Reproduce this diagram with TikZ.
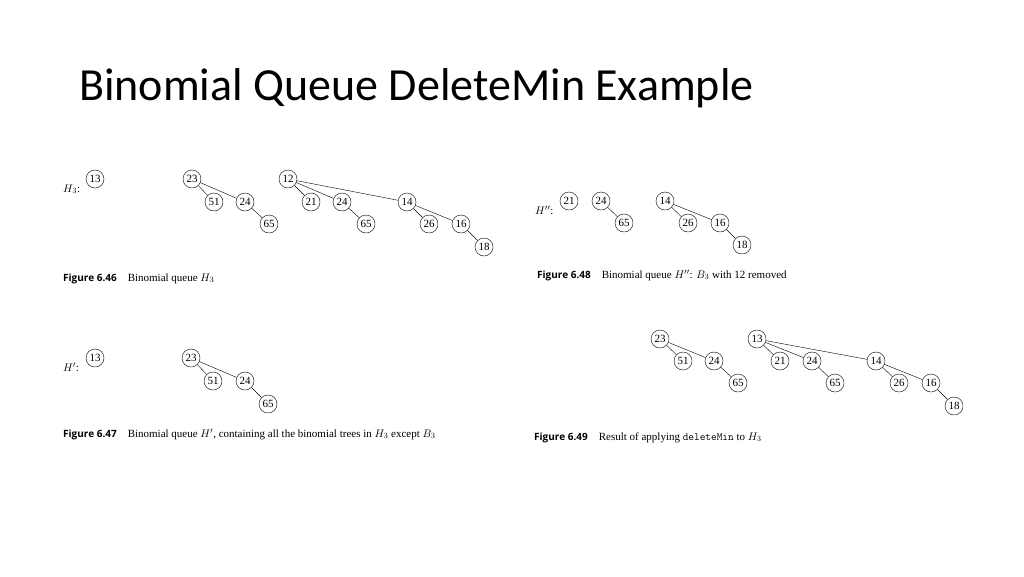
\documentclass[tikz,border=0pt]{standalone}
\usepackage{fontspec}
\setmainfont{Liberation Serif}
\newfontfamily\titlefont{Carlito}
\newfontfamily\capfont{Open Sans}
\begin{document}
\begin{tikzpicture}[x=1pt,y=-1pt,
  key/.style={draw,circle,minimum size=18pt,inner sep=0pt,font=\fontsize{11}{11}\selectfont},
  lbl/.style={anchor=base west,inner sep=0pt,font=\fontsize{11}{11}\selectfont},
  figcap/.style={anchor=base west,inner sep=0pt,font=\fontsize{11}{11}\selectfont}]
\useasboundingbox (0,0) rectangle (1024,576);
% title
\node[anchor=base west,inner sep=0pt,font=\titlefont\fontsize{46}{46}\selectfont] (title) at (79,100) {Binomial Queue DeleteMin Example};

% Figure 6.46
\node[lbl] (lh3) at (63,192) {$H_3$:};
\node[key] (a13) at (95,179) {13};
\node[key] (a23) at (192,179) {23};
\node[key] (a51) at (214,202) {51};
\node[key] (a24) at (245,202) {24};
\node[key] (a65) at (269,224) {65};
\node[key] (a12) at (288,179) {12};
\node[key] (a21) at (311,202) {21};
\node[key] (a24b) at (342,202) {24};
\node[key] (a65b) at (366,224) {65};
\node[key] (a14) at (407,202) {14};
\node[key] (a26) at (429,224) {26};
\node[key] (a16) at (461,224) {16};
\node[key] (a18) at (484,247) {18};
\foreach \u/\v in {a23/a51,a23/a24,a24/a65,a12/a21,a12/a24b,a12/a14,a24b/a65b,a14/a26,a14/a16,a16/a18}
  \draw (\u) -- (\v);
\node[figcap] (c46) at (63,281) {{\capfont\bfseries\fontsize{10}{10}\selectfont Figure 6.46}\quad Binomial queue $H_3$};

% Figure 6.48
\node[lbl] (lh2) at (535,214) {$H''$:};
\node[key] (b21) at (569,201) {21};
\node[key] (b24) at (601,201) {24};
\node[key] (b65) at (624,223) {65};
\node[key] (b14) at (665,201) {14};
\node[key] (b26) at (688,223) {26};
\node[key] (b16) at (720,223) {16};
\node[key] (b18) at (742,245) {18};
\foreach \u/\v in {b24/b65,b14/b26,b14/b16,b16/b18}
  \draw (\u) -- (\v);
\node[figcap] (c48) at (537,278) {{\capfont\bfseries\fontsize{10}{10}\selectfont Figure 6.48}\quad Binomial queue $H''$: $B_3$ with 12 removed};

% Figure 6.47
\node[lbl] (lh1) at (63,371) {$H'$:};
\node[key] (c13) at (95,358) {13};
\node[key] (c23) at (191,358) {23};
\node[key] (c51) at (213,381) {51};
\node[key] (c24) at (245,381) {24};
\node[key] (c65) at (268,404) {65};
\foreach \u/\v in {c23/c51,c23/c24,c24/c65}
  \draw (\u) -- (\v);
\node[figcap] (c47) at (63,437) {{\capfont\bfseries\fontsize{10}{10}\selectfont Figure 6.47}\quad Binomial queue $H'$, containing all the binomial trees in $H_3$ except $B_3$};

% Figure 6.49
\node[key] (d23) at (660,339) {23};
\node[key] (d51) at (683,361) {51};
\node[key] (d24) at (714,361) {24};
\node[key] (d65) at (738,383) {65};
\node[key] (d13) at (757,339) {13};
\node[key] (d21) at (780,361) {21};
\node[key] (d24b) at (812,361) {24};
\node[key] (d65b) at (835,383) {65};
\node[key] (d14) at (876,361) {14};
\node[key] (d26) at (899,383) {26};
\node[key] (d16) at (931,383) {16};
\node[key] (d18) at (954,406) {18};
\foreach \u/\v in {d23/d51,d23/d24,d24/d65,d13/d21,d13/d24b,d13/d14,d24b/d65b,d14/d26,d14/d16,d16/d18}
  \draw (\u) -- (\v);
\node[figcap] (c49) at (534,440) {{\capfont\bfseries\fontsize{10}{10}\selectfont Figure 6.49}\quad Result of applying \texttt{deleteMin} to $H_3$};
\end{tikzpicture}
\end{document}
